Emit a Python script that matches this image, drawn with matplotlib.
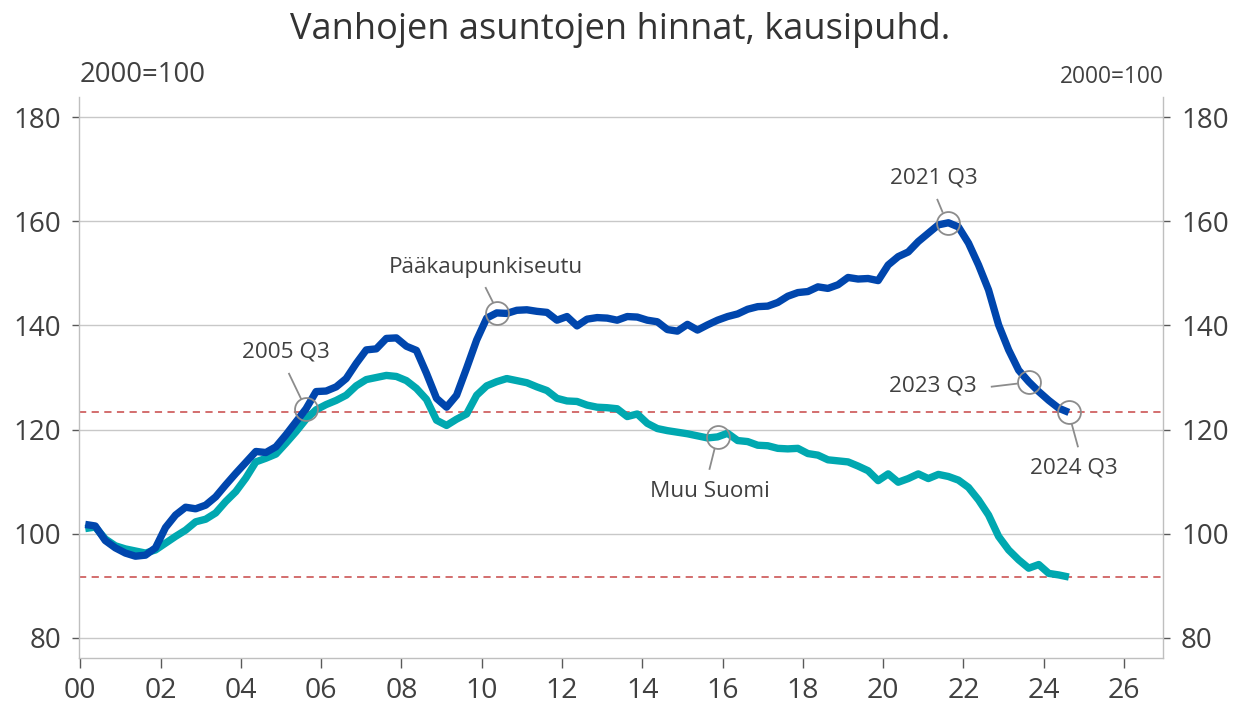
import matplotlib
matplotlib.use("Agg")
import matplotlib.pyplot as plt
from matplotlib.transforms import offset_copy
import numpy as np

# ---- data -------------------------------------------------------------
start_year = 2000
quarters = [f"{start_year + i // 4} Q{i % 4 + 1}" for i in range(99)]  # 2000 Q1 .. 2024 Q3

paakaupunkiseutu = [
    101.8, 101.5, 98.7, 97.3, 96.3, 95.7, 95.9, 97.3, 101.2, 103.6,
    105.1, 104.8, 105.5, 107.1, 109.4, 111.6, 113.7, 115.8, 115.6, 116.7,
    119.0, 121.5, 124.0, 127.3, 127.4, 128.2, 129.8, 132.7, 135.3, 135.5,
    137.5, 137.6, 136.0, 135.2, 130.8, 126.0, 124.3, 126.6, 131.8, 137.2,
    141.4, 142.4, 142.3, 142.9, 143.0, 142.7, 142.5, 141.0, 141.7, 139.9,
    141.2, 141.5, 141.4, 141.0, 141.7, 141.6, 141.0, 140.7, 139.2, 138.9,
    140.2, 139.1, 140.1, 141.0, 141.7, 142.2, 143.1, 143.6, 143.7, 144.4,
    145.6, 146.3, 146.5, 147.4, 147.1, 147.8, 149.2, 148.9, 149.0, 148.6,
    151.6, 153.2, 154.1, 156.1, 157.7, 159.3, 159.7, 158.9, 155.8, 151.6,
    146.8, 140.1, 135.3, 131.4, 129.2, 127.3, 125.6, 124.1, 123.3,
]
muu_suomi = [
    101.0, 101.3, 99.0, 97.7, 97.1, 96.7, 96.3, 96.9, 98.2, 99.5,
    100.7, 102.3, 102.8, 104.0, 106.2, 108.1, 110.7, 113.8, 114.5, 115.3,
    117.4, 119.6, 122.0, 123.8, 124.8, 125.6, 126.6, 128.4, 129.6, 130.0,
    130.4, 130.2, 129.4, 127.9, 125.8, 121.8, 120.8, 122.0, 123.0, 126.6,
    128.4, 129.2, 129.8, 129.4, 129.0, 128.2, 127.5, 126.0, 125.5, 125.4,
    124.7, 124.3, 124.2, 124.0, 122.5, 123.0, 121.2, 120.2, 119.8, 119.5,
    119.2, 118.8, 118.4, 118.6, 119.3, 117.9, 117.7, 117.0, 116.9, 116.4,
    116.3, 116.4, 115.4, 115.1, 114.2, 114.0, 113.8, 113.0, 112.1, 110.2,
    111.5, 109.9, 110.6, 111.5, 110.6, 111.4, 111.0, 110.3, 108.9, 106.5,
    103.6, 99.5, 96.9, 95.0, 93.4, 94.1, 92.4, 92.1, 91.7,
]
x_ticks = list(range(0, 27, 2))
x_tick_labels = [f"{t:02d}" for t in x_ticks]
y_ticks = [80, 100, 120, 140, 160, 180]

# annotations: (series, quarter label, text, text offset px, leader start px, leader end px)
annotations = [
    ("p", "2005 Q3", "2005 Q3", (-20, 57), (-5, 10), (-17, 35)),
    ("p", "2010 Q2", "Pääkaupunkiseutu", (-11, 45), (-4, 11), (-11, 25)),
    ("m", "2015 Q4", "Muu Suomi", (-8, -55), (-3, -12), (-8, -32)),
    ("p", "2021 Q3", "2021 Q3", (-15, 45), (-6, 11), (-11, 23)),
    ("p", "2023 Q3", "2023 Q3", (-96, -4), (-12, -2), (-37, -5)),
    ("p", "2024 Q3", "2024 Q3", (5, -56), (3, -12), (9, -34)),
]

# ---- style --------------------------------------------------------------
FONT = ["Open Sans", "DejaVu Sans"]
plt.rcParams["font.family"] = FONT
TXT = "#404040"
BLUE = "#0046AD"
TEAL = "#00A8B0"
RED = "#D06262"
GRID = "#C8C8C8"
SPINE = "#BFBFBF"
CIRC = "#8C8C8C"

def qx(q):
    y, qq = q.split(" Q")
    return int(y) - 2000 + (int(qq) - 1) / 4 + 0.125

xs = np.array([qx(q) for q in quarters])

fig = plt.figure(figsize=(12.36, 7.06), dpi=100)
ax = fig.add_axes([79 / 1236, 1 - 658 / 706, (1163 - 79) / 1236, (658 - 97) / 706])

ax.set_xlim(-0.03, 26.97)
ax.set_ylim(76.16, 183.84)

for yv in y_ticks:
    ax.axhline(yv, color=GRID, lw=1.0, zorder=1)

ax.axhline(paakaupunkiseutu[-1], color=RED, lw=1.3, ls=(0, (4, 3)), zorder=2)
ax.axhline(muu_suomi[-1], color=RED, lw=1.3, ls=(0, (4, 3)), zorder=2)

ax.plot(xs, muu_suomi, color=TEAL, lw=5.3, solid_capstyle="butt", solid_joinstyle="round", zorder=3)
ax.plot(xs, paakaupunkiseutu, color=BLUE, lw=5.3, solid_capstyle="butt", solid_joinstyle="round", zorder=4)

series = {"p": paakaupunkiseutu, "m": muu_suomi}
for key, q, text, toff, l0, l1 in annotations:
    i = quarters.index(q)
    px, py = xs[i], series[key][i]
    ax.plot([px], [py], marker="o", ms=16.5, mfc="none", mec=CIRC, mew=1.3, zorder=6)
    ax.annotate(text, xy=(px, py), xytext=toff, textcoords="offset pixels",
                ha="center", va="center", fontsize=16.2, color=TXT, zorder=7)
    tr0 = offset_copy(ax.transData, fig=fig, x=l0[0], y=l0[1], units="dots")
    tr1 = offset_copy(ax.transData, fig=fig, x=l1[0], y=l1[1], units="dots")
    p0 = tr0.transform((px, py))
    p1 = tr1.transform((px, py))
    ax.plot([p0[0], p1[0]], [p0[1], p1[1]], color=CIRC, lw=1.3,
            transform=None, zorder=6)

ax.set_xticks(x_ticks)
ax.set_xticklabels(x_tick_labels)
ax.set_yticks(y_ticks)
ax.tick_params(axis="y", which="both", left=True, right=True, labelleft=True, labelright=True,
               length=5, width=1, color="#595959", labelsize=20, labelcolor=TXT, pad=8)
ax.tick_params(axis="x", length=7, width=1, color="#595959", labelsize=20.5, labelcolor=TXT, pad=7)

for s in ["left", "right", "bottom"]:
    ax.spines[s].set_color(SPINE)
    ax.spines[s].set_linewidth(1.0)
ax.spines["top"].set_visible(False)

fig.text(620 / 1236, 1 - 30 / 706, "Vanhojen asuntojen hinnat, kausipuhd.",
         ha="center", va="center", fontsize=26, color="#333333")
fig.text(80 / 1236, 1 - 75 / 706, "2000=100", ha="left", va="center", fontsize=19.8, color=TXT)
fig.text(1164 / 1236, 1 - 77 / 706, "2000=100", ha="right", va="center", fontsize=16.4, color=TXT)

fig.savefig("out.png", dpi=100)
